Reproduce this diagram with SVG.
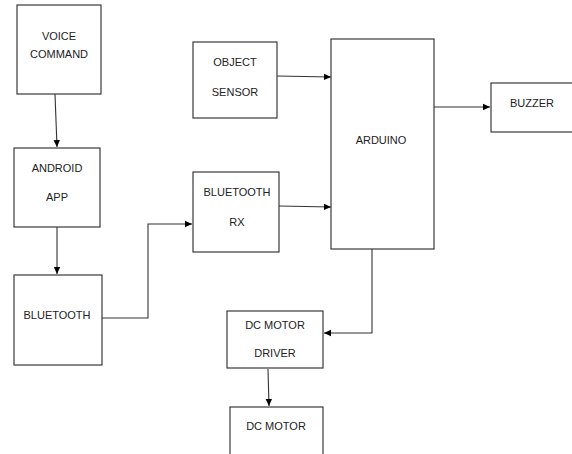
<svg xmlns="http://www.w3.org/2000/svg" width="572" height="454" viewBox="0 0 572 454">
<style>
.box{fill:#fff;stroke:#3a3a3a;stroke-width:1.2}
.lbl{font-family:"Liberation Sans",Arial,sans-serif;font-size:11px;fill:#222;text-anchor:middle}
.conn{fill:none;stroke:#333;stroke-width:1.1}
</style>
<defs>
<marker id="ah" markerWidth="8" markerHeight="8" refX="7" refY="4" orient="auto" markerUnits="userSpaceOnUse">
<path d="M0,0.8 L7,4 L0,7.2 Z" fill="#000"/>
</marker>
</defs>
<rect width="572" height="454" fill="#fff"/>
<g id="connectors">
<path class="conn" d="M55,94 L57,147" marker-end="url(#ah)"/>
<path class="conn" d="M57,227 L57,274" marker-end="url(#ah)"/>
<path class="conn" d="M102,318 L148,318 L148,224 L192,224" marker-end="url(#ah)"/>
<path class="conn" d="M277,76 L331,77" marker-end="url(#ah)"/>
<path class="conn" d="M279,206 L331,207" marker-end="url(#ah)"/>
<path class="conn" d="M434,107 L490,107" marker-end="url(#ah)"/>
<path class="conn" d="M372,249 L372,333 L324,333" marker-end="url(#ah)"/>
<path class="conn" d="M268,369 L269,406" marker-end="url(#ah)"/>
</g>
<g id="voice-command">
<rect class="box" x="17" y="5" width="84" height="89"/>
<text class="lbl" x="59" y="40">VOICE</text>
<text class="lbl" x="59" y="58">COMMAND</text>
</g>
<g id="android-app">
<rect class="box" x="14" y="148" width="86" height="79"/>
<text class="lbl" x="57" y="172">ANDROID</text>
<text class="lbl" x="57" y="201">APP</text>
</g>
<g id="bluetooth">
<rect class="box" x="14" y="275" width="88" height="90"/>
<text class="lbl" x="57" y="319">BLUETOOTH</text>
</g>
<g id="object-sensor">
<rect class="box" x="193" y="42" width="84" height="76"/>
<text class="lbl" x="235" y="66">OBJECT</text>
<text class="lbl" x="235" y="96">SENSOR</text>
</g>
<g id="bluetooth-rx">
<rect class="box" x="193" y="172" width="86" height="80"/>
<text class="lbl" x="237" y="196">BLUETOOTH</text>
<text class="lbl" x="237" y="226">RX</text>
</g>
<g id="arduino">
<rect class="box" x="331" y="39" width="103" height="210"/>
<text class="lbl" x="381" y="144">ARDUINO</text>
</g>
<g id="buzzer">
<rect class="box" x="491" y="83" width="90" height="49"/>
<text class="lbl" x="532" y="107">BUZZER</text>
</g>
<g id="dc-motor-driver">
<rect class="box" x="227" y="311" width="96" height="57"/>
<text class="lbl" x="275" y="329">DC MOTOR</text>
<text class="lbl" x="275" y="357">DRIVER</text>
</g>
<g id="dc-motor">
<rect class="box" x="230" y="407" width="93" height="60"/>
<text class="lbl" x="276" y="430">DC MOTOR</text>
</g>
</svg>
